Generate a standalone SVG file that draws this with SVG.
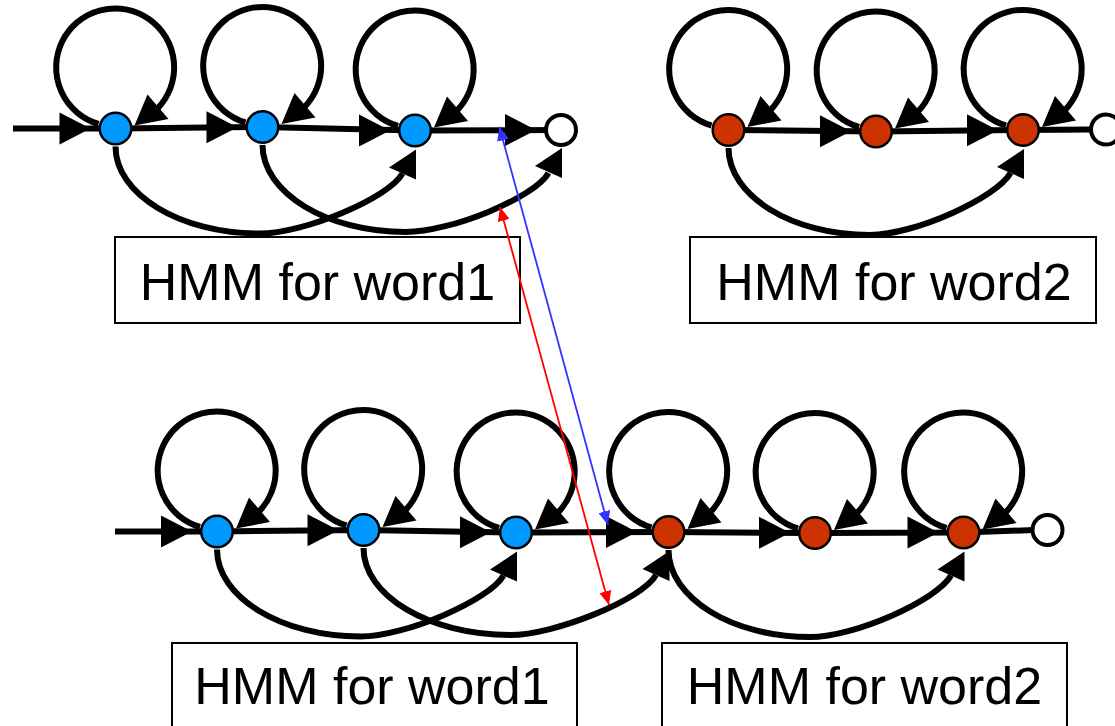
<svg xmlns="http://www.w3.org/2000/svg" width="1115" height="726" viewBox="0 0 1115 726">
<style>
.edge{fill:none;stroke:#000;stroke-width:6;stroke-linecap:butt}
.head{fill:#000;stroke:none}
.blue{fill:#0099ff;stroke:#000;stroke-width:2.5}
.red{fill:#cc3300;stroke:#000;stroke-width:2.5}
.end{fill:#fff;stroke:#000;stroke-width:4}
.box{fill:none;stroke:#000;stroke-width:2}
.lbl{font-family:"Liberation Sans",Arial,sans-serif;font-size:52px;fill:#000;text-anchor:middle}
.link{fill:none;stroke-width:1.8}
</style>
<defs>
<marker id="mBlue" viewBox="0 0 14 12" refX="14" refY="6" markerWidth="14" markerHeight="12" markerUnits="userSpaceOnUse" orient="auto-start-reverse"><path d="M0,0 L14,6 L0,12 Z" fill="#3333ff"/></marker>
<marker id="mRed" viewBox="0 0 14 12" refX="14" refY="6" markerWidth="14" markerHeight="12" markerUnits="userSpaceOnUse" orient="auto-start-reverse"><path d="M0,0 L14,6 L0,12 Z" fill="#ff0000"/></marker>
</defs>

<g id="labels">
<g id="label-top-word1"><rect class="box" x="115" y="237" width="405" height="86"/><text class="lbl" x="317.5" y="300">HMM for word1</text></g>
<g id="label-top-word2"><rect class="box" x="690" y="237" width="406" height="86"/><text class="lbl" x="894" y="300">HMM for word2</text></g>
<g id="label-bottom-word1"><rect class="box" x="172" y="643" width="405" height="90"/><text class="lbl" x="372" y="704">HMM for word1</text></g>
<g id="label-bottom-word2"><rect class="box" x="662" y="643" width="405" height="90"/><text class="lbl" x="864.5" y="704">HMM for word2</text></g>
</g>

<g id="connectors">
<!-- top-left word1 -->
<path class="edge" d="M13,128.5 L115.5,128.5 L262.5,127 L415,130.5 L561,130"/>
<path class="head" d="M90.5,128.5 l-31,-16 l0,32 z"/>
<path class="head" d="M237.5,127.2 l-31,-16 l0,32 z"/>
<path class="head" d="M390,130.4 l-31,-16 l0,32 z"/>
<path class="head" d="M536,130 l-31,-16 l0,32 z"/>
<path class="edge" d="M98.5,124 a59,59 0 1 1 58.7,-15.2"/>
<path class="head" d="M134.5,125.5 l13,-31 l21,24.5 z"/>
<path class="edge" d="M245.5,122.5 a59,59 0 1 1 58.7,-15.2"/>
<path class="head" d="M281.5,124 l13,-31 l21,24.5 z"/>
<path class="edge" d="M398,126 a59,59 0 1 1 58.7,-15.2"/>
<path class="head" d="M434,127.5 l13,-31 l21,24.5 z"/>
<path class="edge" d="M115.5,146.5 C115.5,194.35 180.2,233.5 259.25,233.5 C304.25,233.5 388.8,197.9 402.5,173.5"/>
<path class="head" d="M416,149.5 l-27,18 l27,12 z"/>
<path class="edge" d="M262.5,145 C262.5,192.85 326.96,232 405.75,232 C450.75,232 534.8,197.4 548.5,173"/>
<path class="head" d="M562,148 l-27,18 l27,12 z"/>

<!-- top-right word2 -->
<path class="edge" d="M728.5,130 L876,131.5 L1023,130 L1092,129.5"/>
<path class="head" d="M851,131.3 l-31,-16 l0,32 z"/>
<path class="head" d="M998,130.2 l-31,-16 l0,32 z"/>
<path class="edge" d="M711.5,125.5 a59,59 0 1 1 58.7,-15.2"/>
<path class="head" d="M747.5,127 l13,-31 l21,24.5 z"/>
<path class="edge" d="M859,127 a59,59 0 1 1 58.7,-15.2"/>
<path class="head" d="M895,128.5 l13,-31 l21,24.5 z"/>
<path class="edge" d="M1006,125.5 a59,59 0 1 1 58.7,-15.2"/>
<path class="head" d="M1042,127 l13,-31 l21,24.5 z"/>
<path class="edge" d="M728.5,148 C728.5,195.85 792.06,235 869.75,235 C914.75,235 996.8,197.4 1010.5,173"/>
<path class="head" d="M1024,149 l-27,18 l27,12 z"/>

<!-- bottom concatenated -->
<path class="edge" d="M115,531.6 L217,531.5 L363.5,530 L516,532.5 L668.5,532 L815,533 L963.5,532.5 L1034,530"/>
<path class="head" d="M192,531.5 l-31,-16 l0,32 z"/>
<path class="head" d="M338.5,530.2 l-31,-16 l0,32 z"/>
<path class="head" d="M491,532.3 l-31,-16 l0,32 z"/>
<path class="head" d="M637,532.1 l-31,-16 l0,32 z"/>
<path class="head" d="M790,532.8 l-31,-16 l0,32 z"/>
<path class="head" d="M938.5,532.6 l-31,-16 l0,32 z"/>
<path class="edge" d="M200,527 a59,59 0 1 1 58.7,-15.2"/>
<path class="head" d="M236,528.5 l13,-31 l21,24.5 z"/>
<path class="edge" d="M346.5,525.5 a59,59 0 1 1 58.7,-15.2"/>
<path class="head" d="M382.5,527 l13,-31 l21,24.5 z"/>
<path class="edge" d="M499,528 a59,59 0 1 1 58.7,-15.2"/>
<path class="head" d="M535,529.5 l13,-31 l21,24.5 z"/>
<path class="edge" d="M651.5,527.5 a59,59 0 1 1 58.7,-15.2"/>
<path class="head" d="M687.5,529 l13,-31 l21,24.5 z"/>
<path class="edge" d="M798,528.5 a59,59 0 1 1 58.7,-15.2"/>
<path class="head" d="M834,530 l13,-31 l21,24.5 z"/>
<path class="edge" d="M946.5,528 a59,59 0 1 1 58.7,-15.2"/>
<path class="head" d="M982.5,529.5 l13,-31 l21,24.5 z"/>
<path class="edge" d="M217,549.5 C217,597.35 281.6,636.5 360.5,636.5 C405.5,636.5 489.8,599.9 503.5,575.5"/>
<path class="head" d="M517,551.5 l-27,18 l27,12 z"/>
<path class="edge" d="M363.5,548 C363.5,595.85 429.4,635 510,635 C555,635 642.3,599.4 656,575"/>
<path class="head" d="M669.5,551 l-27,18 l27,12 z"/>
<path class="edge" d="M668.5,550 C668.5,597.85 732.2,637 810,637 C855,637 937.3,599.9 951,575.5"/>
<path class="head" d="M964.5,551.5 l-27,18 l27,12 z"/>
</g>

<g id="node-top-w1-s1"><circle class="blue" cx="115.5" cy="128.5" r="15.8"/></g>
<g id="node-top-w1-s2"><circle class="blue" cx="262.5" cy="127" r="15.8"/></g>
<g id="node-top-w1-s3"><circle class="blue" cx="415" cy="130.5" r="15.8"/></g>
<g id="node-top-w1-end"><circle class="end" cx="561" cy="130" r="15"/></g>
<g id="node-top-w2-s1"><circle class="red" cx="728.5" cy="130" r="15.8"/></g>
<g id="node-top-w2-s2"><circle class="red" cx="876" cy="131.5" r="15.8"/></g>
<g id="node-top-w2-s3"><circle class="red" cx="1023" cy="130" r="15.8"/></g>
<g id="node-top-w2-end"><circle class="end" cx="1106" cy="129.5" r="15"/></g>
<g id="node-bot-w1-s1"><circle class="blue" cx="217" cy="531.5" r="15.8"/></g>
<g id="node-bot-w1-s2"><circle class="blue" cx="363.5" cy="530" r="15.8"/></g>
<g id="node-bot-w1-s3"><circle class="blue" cx="516" cy="532.5" r="15.8"/></g>
<g id="node-bot-w2-s1"><circle class="red" cx="668.5" cy="532" r="15.8"/></g>
<g id="node-bot-w2-s2"><circle class="red" cx="815" cy="533" r="15.8"/></g>
<g id="node-bot-w2-s3"><circle class="red" cx="963.5" cy="532.5" r="15.8"/></g>
<g id="node-bot-end"><circle class="end" cx="1047.5" cy="530" r="15"/></g>

<g id="alignment-links">
<line class="link" x1="499.3" y1="126.7" x2="608" y2="525" stroke="#3333ff" marker-start="url(#mBlue)" marker-end="url(#mBlue)"/>
<line class="link" x1="500" y1="207" x2="609" y2="605" stroke="#ff0000" marker-start="url(#mRed)" marker-end="url(#mRed)"/>
</g>
</svg>
